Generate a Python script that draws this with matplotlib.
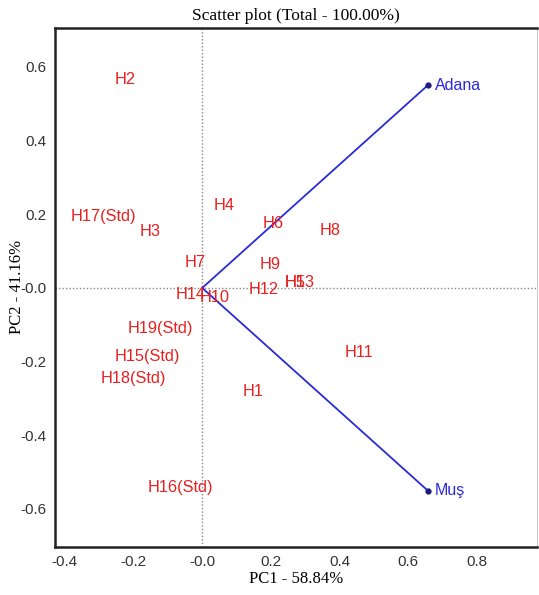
import numpy as np
import matplotlib.pyplot as plt

# genotype scores (PC1, PC2)
genotypes = ['H2', 'H17(Std)', 'H3', 'H4', 'H6', 'H8', 'H7', 'H9', 'H12', 'H5', 'H13',
             'H14', 'H10', 'H19(Std)', 'H15(Std)', 'H18(Std)', 'H1', 'H11', 'H16(Std)']
pc1 = [-0.224, -0.288, -0.151, 0.064, 0.207, 0.373, -0.020, 0.198, 0.178, 0.272, 0.285,
       -0.035, 0.035, -0.122, -0.160, -0.200, 0.148, 0.457, -0.064]
pc2 = [0.567, 0.193, 0.152, 0.223, 0.174, 0.157, 0.068, 0.065, -0.005, 0.014, 0.014,
       -0.019, -0.027, -0.111, -0.185, -0.247, -0.280, -0.176, -0.543]

# environment vectors
envs = ['Adana', 'Muş']
env_pc1 = [0.658, 0.658]
env_pc2 = [0.551, -0.551]

sans = 'Liberation Sans'
serif = 'Liberation Serif'

fig = plt.figure(figsize=(5.39, 5.95), dpi=100)
ax = fig.add_axes([0.102, 0.081, 0.894, 0.872])

ax.axvline(0, color='#888888', ls=(0, (1, 1.5)), lw=1)
ax.axhline(0, color='#888888', ls=(0, (1, 1.5)), lw=1)

for name, x, y in zip(envs, env_pc1, env_pc2):
    ax.plot([0, x], [0, y], color='#2a2ad8', lw=1.3)
    ax.plot(x, y, 'o', color='#1a1a80', ms=3.5)
    ax.text(x + 0.02, y, name, color='#2a2ad8', fontsize=11.5, family=sans,
            ha='left', va='center')

for name, x, y in zip(genotypes, pc1, pc2):
    ax.text(x, y, name, color='#e82020', fontsize=11.8, family=sans,
            ha='center', va='center')

ax.set_xlim(-0.429, 0.975)
ax.set_ylim(-0.703, 0.706)
ax.set_xticks([-0.4, -0.2, 0.0, 0.2, 0.4, 0.6, 0.8])
ax.set_xticklabels(['-0.4', '-0.2', '-0.0', '0.2', '0.4', '0.6', '0.8'])
ax.set_yticks([-0.6, -0.4, -0.2, 0.0, 0.2, 0.4, 0.6])
ax.set_yticklabels(['-0.6', '-0.4', '-0.2', '-0.0', '0.2', '0.4', '0.6'])
ax.tick_params(length=0, labelsize=11, pad=6)
for lab in ax.get_xticklabels() + ax.get_yticklabels():
    lab.set_family(sans)
    lab.set_color('#333333')

for s in ['left', 'bottom', 'top']:
    ax.spines[s].set_linewidth(1.8)
    ax.spines[s].set_color('#222222')
ax.spines['right'].set_color('#cccccc')
ax.spines['right'].set_linewidth(0.8)

ax.set_xlabel('PC1 - 58.84%', family=serif, fontsize=12, labelpad=1.5)
ax.set_ylabel('PC2 - 41.16%', family=serif, fontsize=12, labelpad=-3)
ax.set_title('Scatter plot (Total - 100.00%)', family=serif, fontsize=12.5, pad=6)

fig.savefig('out.png', dpi=100)
